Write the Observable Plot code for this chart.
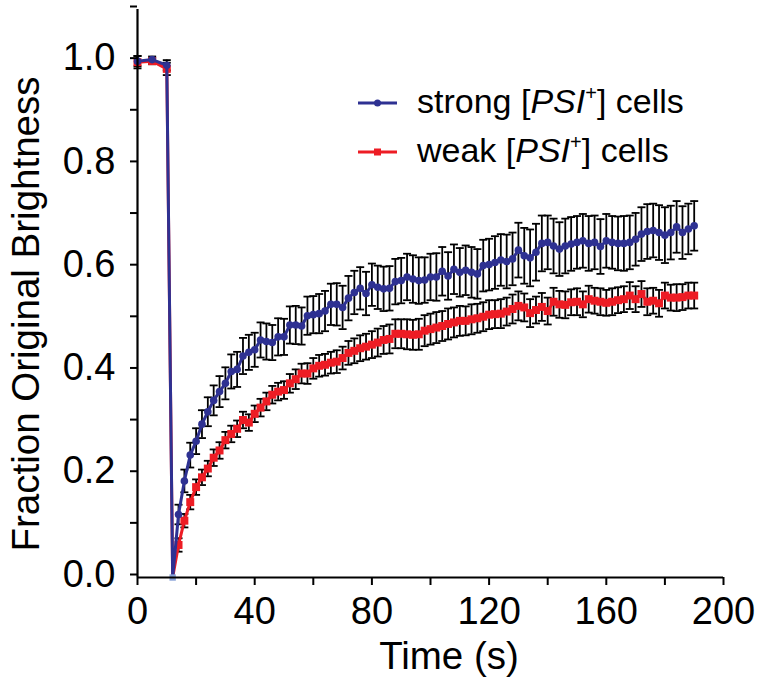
<!DOCTYPE html>
<html>
<head>
<meta charset="utf-8">
<script src="https://cdn.jsdelivr.net/npm/d3@7"></script>
<script src="https://cdn.jsdelivr.net/npm/@observablehq/plot@0.6"></script>
<style>
  html, body { margin: 0; padding: 0; background: #fff; }
  #chart svg { display: block; }
</style>
</head>
<body>
<div id="chart"></div>
<script>
// ---- data ----
const times = [0, 5, 10,
  12, 14, 16, 18, 20, 22, 24, 26, 28, 30,
  32, 34, 36, 38, 40, 42, 44, 46, 48, 50,
  52, 54, 56, 58, 60, 62, 64, 66, 68, 70,
  72, 74, 76, 78, 80, 82, 84, 86, 88, 90,
  92, 94, 96, 98, 100, 102, 104, 106, 108, 110,
  112, 114, 116, 118, 120, 122, 124, 126, 128, 130,
  132, 134, 136, 138, 140, 142, 144, 146, 148, 150,
  152, 154, 156, 158, 160, 162, 164, 166, 168, 170,
  172, 174, 176, 178, 180, 182, 184, 186, 188, 190];

const strongValues = [1.000, 1.003, 0.992,
  0.000, 0.122, 0.187, 0.237, 0.264, 0.297, 0.321, 0.343, 0.360, 0.376,
  0.399, 0.403, 0.429, 0.436, 0.441, 0.460, 0.457, 0.455, 0.466, 0.466,
  0.489, 0.489, 0.487, 0.507, 0.509, 0.511, 0.516, 0.529, 0.529, 0.523,
  0.541, 0.552, 0.560, 0.550, 0.567, 0.562, 0.559, 0.560, 0.573, 0.575,
  0.582, 0.578, 0.575, 0.576, 0.582, 0.582, 0.593, 0.584, 0.597, 0.591,
  0.595, 0.591, 0.588, 0.604, 0.606, 0.610, 0.615, 0.612, 0.617, 0.634,
  0.623, 0.619, 0.630, 0.647, 0.649, 0.642, 0.636, 0.642, 0.646, 0.649,
  0.652, 0.647, 0.649, 0.641, 0.652, 0.649, 0.647, 0.647, 0.649, 0.655,
  0.665, 0.670, 0.672, 0.668, 0.663, 0.668, 0.679, 0.668, 0.675, 0.681];

const strongErrors = [0.010, 0.006, 0.010,
  0.000, 0.019, 0.022, 0.024, 0.025, 0.027, 0.028, 0.029, 0.030, 0.031,
  0.033, 0.034, 0.035, 0.034, 0.033, 0.034, 0.035, 0.034, 0.036, 0.035,
  0.036, 0.037, 0.036, 0.037, 0.036, 0.038, 0.039, 0.040, 0.041, 0.042,
  0.043, 0.042, 0.041, 0.042, 0.041, 0.042, 0.043, 0.043, 0.044, 0.044,
  0.045, 0.046, 0.045, 0.044, 0.045, 0.046, 0.047, 0.046, 0.048, 0.047,
  0.048, 0.049, 0.048, 0.050, 0.050, 0.051, 0.050, 0.052, 0.051, 0.053,
  0.054, 0.055, 0.055, 0.054, 0.052, 0.053, 0.052, 0.053, 0.052, 0.051,
  0.052, 0.053, 0.052, 0.053, 0.052, 0.051, 0.052, 0.053, 0.052, 0.051,
  0.052, 0.053, 0.052, 0.053, 0.054, 0.052, 0.050, 0.051, 0.049, 0.048];

const weakValues = [0.998, 1.000, 0.985,
  0.000, 0.063, 0.110, 0.146, 0.175, 0.194, 0.211, 0.232, 0.246, 0.266,
  0.278, 0.288, 0.305, 0.300, 0.317, 0.329, 0.341, 0.354, 0.360, 0.363,
  0.376, 0.384, 0.395, 0.395, 0.405, 0.410, 0.412, 0.416, 0.418, 0.425,
  0.435, 0.439, 0.444, 0.447, 0.451, 0.455, 0.460, 0.462, 0.472, 0.472,
  0.471, 0.470, 0.471, 0.478, 0.481, 0.484, 0.487, 0.491, 0.494, 0.497,
  0.497, 0.500, 0.502, 0.505, 0.509, 0.510, 0.511, 0.515, 0.520, 0.526,
  0.523, 0.512, 0.518, 0.524, 0.516, 0.534, 0.529, 0.528, 0.533, 0.534,
  0.529, 0.539, 0.536, 0.534, 0.532, 0.534, 0.537, 0.539, 0.546, 0.539,
  0.549, 0.534, 0.536, 0.531, 0.546, 0.542, 0.542, 0.543, 0.546, 0.546];

const weakErrors = [0.012, 0.006, 0.012,
  0.000, 0.013, 0.013, 0.014, 0.015, 0.015, 0.015, 0.016, 0.016, 0.016,
  0.016, 0.016, 0.016, 0.016, 0.016, 0.017, 0.017, 0.017, 0.017, 0.017,
  0.018, 0.019, 0.019, 0.020, 0.020, 0.021, 0.021, 0.021, 0.022, 0.022,
  0.023, 0.024, 0.025, 0.025, 0.026, 0.027, 0.027, 0.028, 0.028, 0.028,
  0.029, 0.029, 0.030, 0.030, 0.030, 0.030, 0.029, 0.030, 0.029, 0.029,
  0.028, 0.029, 0.028, 0.028, 0.028, 0.027, 0.028, 0.027, 0.028, 0.028,
  0.027, 0.027, 0.026, 0.027, 0.026, 0.027, 0.026, 0.026, 0.025, 0.026,
  0.025, 0.026, 0.025, 0.026, 0.025, 0.026, 0.025, 0.025, 0.026, 0.025,
  0.025, 0.026, 0.025, 0.026, 0.025, 0.025, 0.026, 0.025, 0.025, 0.025];

const bleachTime = 12;
const yTickValues = [0, 0.1, 0.2, 0.3, 0.4, 0.5, 0.6, 0.7, 0.8, 0.9, 1.0, 1.1];
const yLabelValues = [0, 0.2, 0.4, 0.6, 0.8, 1.0];
const xTickValues = [0, 20, 40, 60, 80, 100, 120, 140, 160, 180, 200];
const xLabelValues = [0, 40, 80, 120, 160, 200];
const seriesNames = ["strong", "weak"];
const blue = "#2e3192";
const red = "#ed1c24";
const bleachColor = "#8aa3d8";

// ---- build tables ----
const strongRows = times.map((t, i) => ({t, v: strongValues[i], e: strongErrors[i], s: seriesNames[0]}));
const weakRows = times.map((t, i) => ({t, v: weakValues[i], e: weakErrors[i], s: seriesNames[1]}));
const allRows = weakRows.concat(strongRows).filter(d => d.e > 0);
const bleachRows = strongRows.filter(d => d.t === bleachTime);

const capSymbol = {
  draw(context, size) {
    const w = Math.sqrt(size / Math.PI);
    context.moveTo(-w, 0);
    context.lineTo(w, 0);
  }
};

const font = "'Liberation Sans', Arial, Helvetica, sans-serif";
const tickFont = 38;

const chart = Plot.plot({
  width: 764,
  height: 684,
  marginLeft: 137,
  marginRight: 41,
  marginTop: 9,
  marginBottom: 107,
  style: {fontFamily: font, background: "#fff", color: "#000"},
  x: {domain: [0, 200]},
  y: {domain: [0, 1.1]},
  marks: [
    // error bars
    Plot.ruleX(allRows, {x: "t", y1: d => d.v - d.e, y2: d => d.v + d.e, stroke: "#000", strokeWidth: 1.8}),
    Plot.dot(allRows, {x: "t", y: d => d.v + d.e, symbol: capSymbol, r: 4, stroke: "#000", strokeWidth: 1.8, fill: "none"}),
    Plot.dot(allRows, {x: "t", y: d => d.v - d.e, symbol: capSymbol, r: 4, stroke: "#000", strokeWidth: 1.8, fill: "none"}),
    // weak series
    Plot.line(weakRows, {x: "t", y: "v", stroke: red, strokeWidth: 3}),
    Plot.dot(weakRows.filter(d => d.t !== bleachTime), {x: "t", y: "v", symbol: "square", r: 4.5, fill: red, stroke: "none"}),
    // strong series
    Plot.line(strongRows, {x: "t", y: "v", stroke: blue, strokeWidth: 3}),
    Plot.dot(strongRows.filter(d => d.t !== bleachTime), {x: "t", y: "v", symbol: "circle", r: 3.8, fill: blue, stroke: "none"}),
    // bleach point
    Plot.dot(bleachRows, {x: "t", y: "v", symbol: "square", r: 3.6, fill: bleachColor, stroke: "none"}),
    // axes
    Plot.ruleX([0], {stroke: "#000", strokeWidth: 2.2}),
    Plot.ruleY([0], {stroke: "#000", strokeWidth: 2.2}),
    Plot.axisY({
      ticks: yTickValues, tickSize: 7, tickPadding: 15, strokeWidth: 2, label: null,
      tickFormat: d => yLabelValues.includes(d) ? d3.format(".1f")(d) : "",
      fontSize: tickFont, dy: -3
    }),
    Plot.axisX({
      ticks: xTickValues, tickSize: 8, tickPadding: 12, strokeWidth: 2, label: null,
      tickFormat: d => xLabelValues.includes(d) ? String(d) : "",
      fontSize: tickFont
    })
  ]
});

document.getElementById("chart").appendChild(chart);

// ---- axis titles and legend ----
const svg = d3.select(chart);
svg.append("text")
  .attr("x", 449).attr("y", 669)
  .attr("text-anchor", "middle")
  .attr("font-family", font).attr("font-size", 38.5).attr("fill", "#000")
  .text("Time (s)");
svg.append("text")
  .attr("transform", "translate(39,314) rotate(-90)")
  .attr("text-anchor", "middle")
  .attr("font-family", font).attr("font-size", 38.5).attr("fill", "#000")
  .text("Fraction Original Brightness");

const legendItems = [
  {label: "strong", color: blue, symbol: "circle", y: 103},
  {label: "weak", color: red, symbol: "square", y: 152}
];
for (const it of legendItems) {
  const g = svg.append("g");
  g.append("line").attr("x1", 358).attr("x2", 397).attr("y1", it.y).attr("y2", it.y)
    .attr("stroke", it.color).attr("stroke-width", 2.8);
  if (it.symbol === "circle") {
    g.append("circle").attr("cx", 377.5).attr("cy", it.y).attr("r", 3.5).attr("fill", it.color);
  } else {
    g.append("rect").attr("x", 374).attr("y", it.y - 3.5).attr("width", 7).attr("height", 7).attr("fill", it.color);
  }
  const t = g.append("text").attr("x", 417).attr("y", it.y + 10)
    .attr("text-anchor", "start")
    .attr("font-family", font).attr("font-size", 34).attr("fill", "#000");
  t.append("tspan").text(it.label + " [");
  t.append("tspan").attr("font-style", "italic").text("PSI");
  t.append("tspan").attr("font-size", 20).attr("dy", -13).text("+");
  t.append("tspan").attr("dy", 13).text("] cells");
}
</script>
</body>
</html>
